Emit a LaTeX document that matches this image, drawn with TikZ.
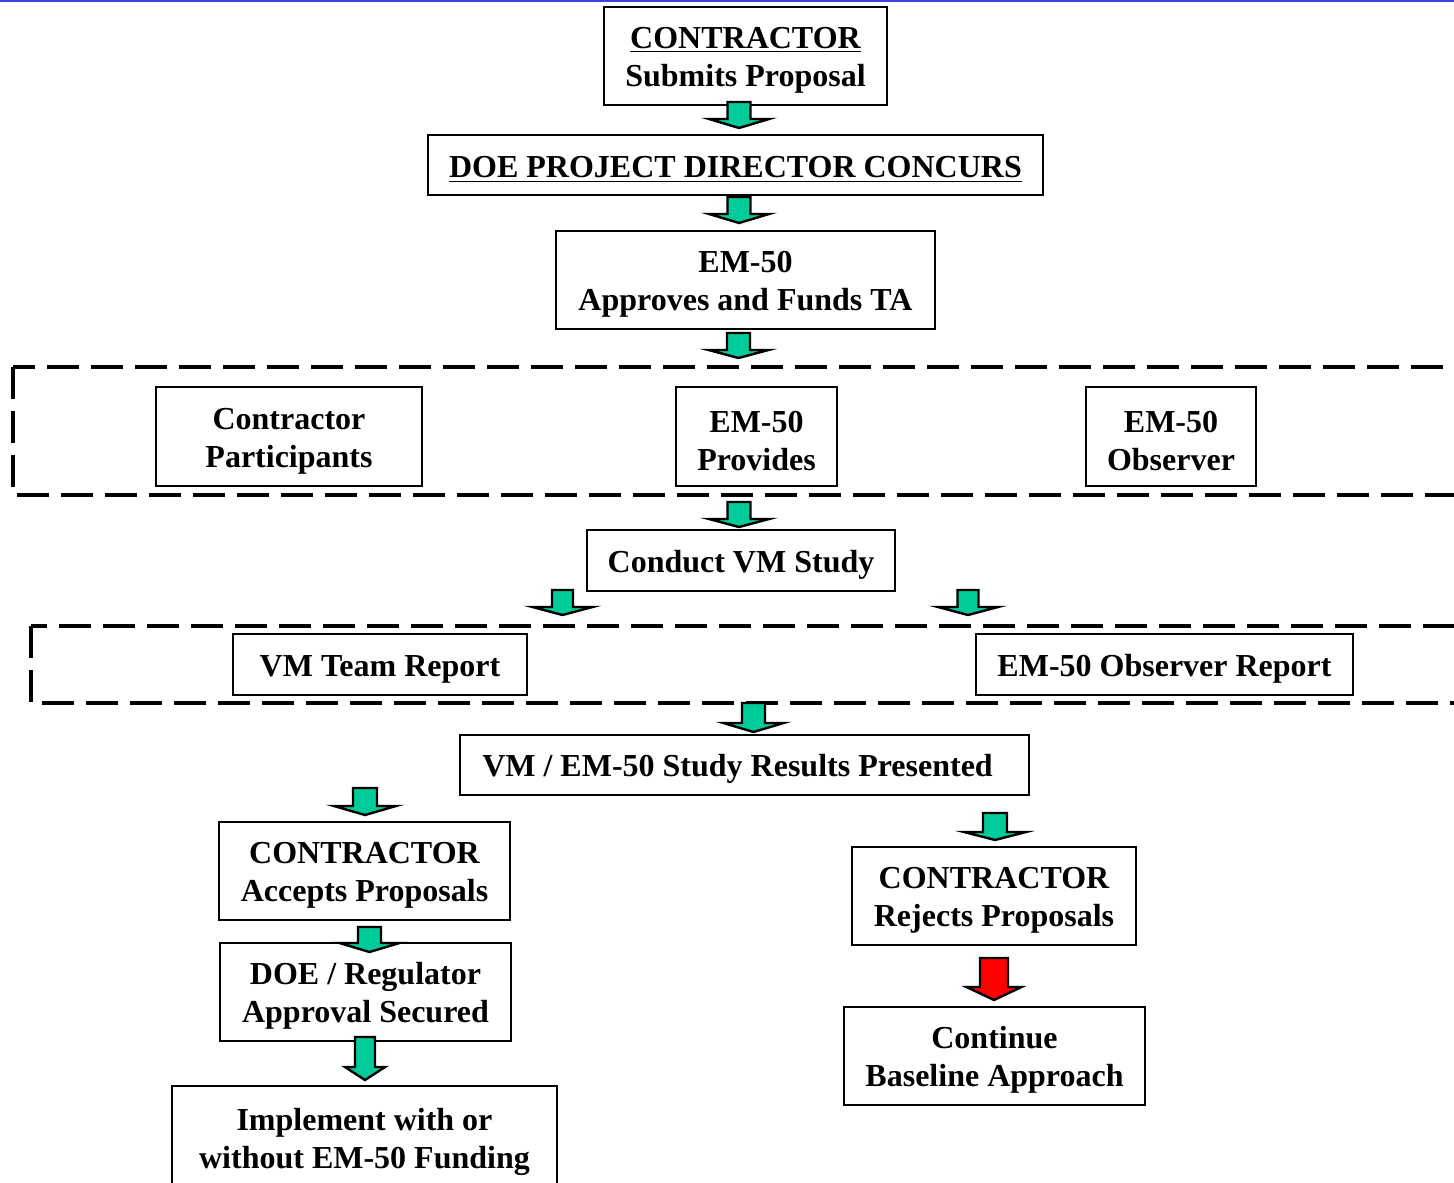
\documentclass[tikz,border=0pt]{standalone}
\usepackage{fontspec}
\setmainfont{Liberation Serif}
\usepackage{xcolor}

\definecolor{arrgreen}{RGB}{0,204,153}
\definecolor{linkblue}{RGB}{64,64,224}

% first line a bit taller, so the text sits lower in its box
\newcommand{\topstrut}{\rule{0pt}{15pt}}

% fat arrow: [fill]{x}{top}{head top}{tip}{half shaft}{half head}
\newcommand{\blockarrow}[7][arrgreen]{%
  \draw[line width=1.2pt,fill=#1,line join=miter]
    (#2-#6,#3) -- (#2+#6,#3) -- (#2+#6,#4) -- (#2+#7,#4) -- (#2,#5)
    -- (#2-#7,#4) -- (#2-#6,#4) -- cycle;}

\begin{document}
\begin{tikzpicture}[x=0.5pt,y=-0.5pt,
    box/.style={draw,line width=1pt,align=center,inner sep=0pt,
      font=\fontsize{16}{19}\selectfont\bfseries},
    group/.style={draw,line width=2pt,dash pattern=on 16pt off 6pt}]
  \clip (0,0) rectangle (1454,1182);
  \fill[white] (0,0) rectangle (1454,1182);
  \draw[linkblue,line width=1.2pt] (0,1) -- (1454,1);

  % dashed groups
  \draw[group] (13,367) rectangle (1480,495);
  \draw[group] (31,626) rectangle (1480,703);

  \node (sub) at (745.5,56) [box,minimum width=141.5pt,minimum height=49pt]
    {\topstrut\underline{CONTRACTOR}\\Submits Proposal};
  \node (doe) at (735.5,165) [box,minimum width=307.5pt,minimum height=30pt]
    {\topstrut\underline{DOE PROJECT DIRECTOR CONCURS}};
  \node (fund) at (745.5,280) [box,minimum width=189.5pt,minimum height=49pt]
    {\topstrut EM-50\\Approves and Funds TA};

  \node (part) at (289,436.5) [box,minimum width=133pt,minimum height=49.5pt]
    {\topstrut Contractor\\Participants};
  \node (prov) at (756.5,436.5) [box,minimum width=80.5pt,minimum height=49.5pt]
    {\topstrut EM-50\\Provides};
  \node (obs) at (1171,436.5) [box,minimum width=85pt,minimum height=49.5pt]
    {\topstrut EM-50\\Observer};

  \node (study) at (741,560.5) [box,minimum width=154pt,minimum height=30.5pt]
    {\topstrut Conduct VM Study};

  \node (team) at (380,664.5) [box,minimum width=147pt,minimum height=30.5pt]
    {\topstrut VM Team Report};
  \node (obsrep) at (1164.5,664.5) [box,minimum width=188.5pt,minimum height=30.5pt]
    {\topstrut EM-50 Observer Report};

  \node (res) at (744.5,765) [box,minimum width=284.5pt,minimum height=30pt]
    {\topstrut VM / EM-50 Study Results Presented\hspace*{7pt}};

  \node (acc) at (364.5,871) [box,minimum width=145.5pt,minimum height=49pt]
    {\topstrut CONTRACTOR\\Accepts Proposals};
  \node (sec) at (365.5,992) [box,minimum width=145.5pt,minimum height=49pt]
    {\topstrut DOE / Regulator\\Approval Secured};
  \node (impl) at (364.5,1138) [box,minimum width=192.5pt,minimum height=52pt]
    {\topstrut Implement with or\\without EM-50 Funding};

  \node (rej) at (994,896) [box,minimum width=142pt,minimum height=49pt]
    {\topstrut CONTRACTOR\\Rejects Proposals};
  \node (cont) at (994.5,1056) [box,minimum width=150.5pt,minimum height=49pt]
    {\topstrut Continue\\Baseline Approach};

  % fat arrows
  \blockarrow{739}{102}{119}{128}{11.5}{30}
  \blockarrow{739}{197}{214}{223}{11.5}{30}
  \blockarrow{738.5}{333}{350}{358}{11.5}{30}
  \blockarrow{739}{502}{519}{527}{11.5}{30}
  \blockarrow{562.5}{590}{607}{615}{10.5}{30}
  \blockarrow{968}{590}{607}{615}{10.5}{30}
  \blockarrow{753.5}{703}{723}{732}{11.5}{30}
  \blockarrow{365}{788}{806}{815}{12}{31}
  \blockarrow{995}{813}{832}{840}{12}{31}
  \blockarrow{369.5}{927}{943}{952}{11.5}{30}
  \blockarrow{365}{1037}{1067}{1080}{10}{20}
  \blockarrow[red]{994}{958}{987}{1000}{14}{27.5}
\end{tikzpicture}
\end{document}
